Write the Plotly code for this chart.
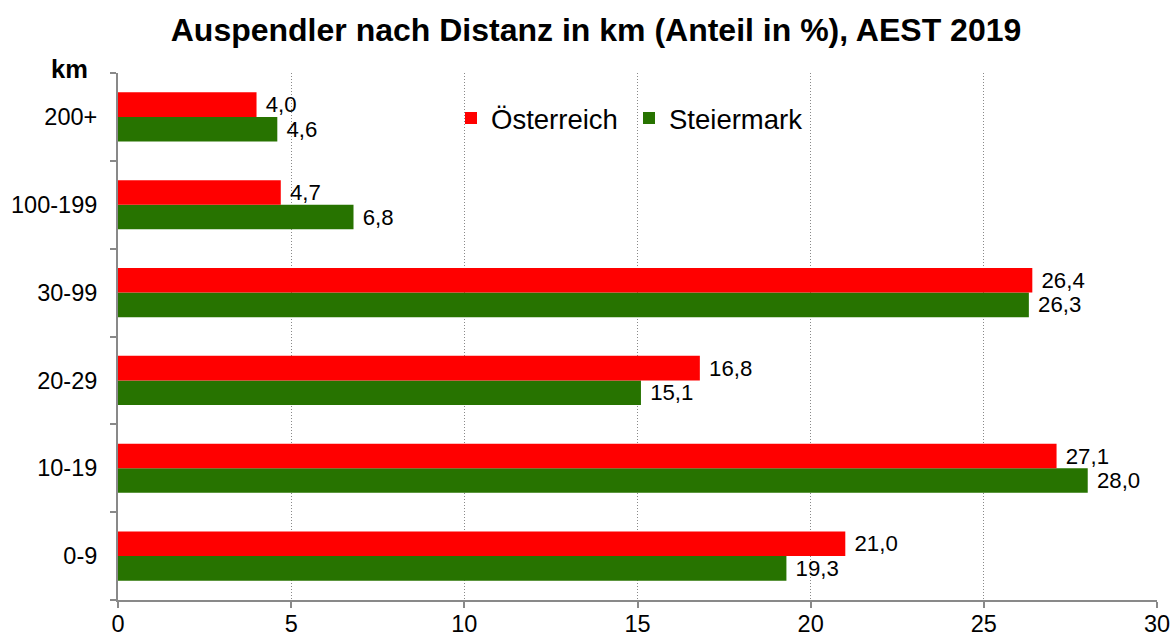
import plotly.graph_objects as go

categories = ["0-9", "10-19", "20-29", "30-99", "100-199", "200+"]
oesterreich = [21.0, 27.1, 16.8, 26.4, 4.7, 4.0]
steiermark = [19.3, 28.0, 15.1, 26.3, 6.8, 4.6]
x_ticks = [0, 5, 10, 15, 20, 25, 30]

FONT = "Liberation Sans, Arial, sans-serif"
RED = "#FF0000"
GREEN = "#277300"
GREY = "#898989"
LBL = 23.5

fig = go.Figure()
fig.add_trace(go.Bar(
    y=categories, x=steiermark, orientation="h", name="Steiermark",
    marker=dict(color=GREEN, line=dict(width=0)),
    text=steiermark, texttemplate="\u00a0%{x:.1f}", textposition="outside",
    textfont=dict(size=LBL, color="black", family=FONT), cliponaxis=False,
    legendrank=2,
))
fig.add_trace(go.Bar(
    y=categories, x=oesterreich, orientation="h", name="Österreich",
    marker=dict(color=RED, line=dict(width=0)),
    text=oesterreich, texttemplate="\u00a0%{x:.1f}", textposition="outside",
    textfont=dict(size=LBL, color="black", family=FONT), cliponaxis=False,
    legendrank=1,
))

fig.update_layout(
    width=1171, height=635,
    margin=dict(l=118, r=14, t=73, b=35, autoexpand=False),
    paper_bgcolor="white", plot_bgcolor="white",
    separators=",.",
    barmode="group", bargap=0.44, bargroupgap=0,
    font=dict(family=FONT, color="black", size=LBL),
    title=dict(
        text="<b>Auspendler nach Distanz in km (Anteil in %), AEST 2019</b>",
        x=596 / 1171, xanchor="center", xref="container",
        y=1 - 30 / 635, yanchor="middle", yref="container",
        font=dict(size=32, family=FONT, color="black"),
    ),
    legend=dict(
        orientation="h", x=(451 - 118) / 1039, xanchor="left",
        y=(600 - 118) / 527, yanchor="middle",
        font=dict(size=27.5, family=FONT, color="black"),
        bgcolor="rgba(0,0,0,0)", traceorder="normal",
        entrywidth=133, entrywidthmode="pixels",
    ),
    xaxis=dict(
        range=[0, 30], tickvals=x_ticks, ticktext=[str(v) for v in x_ticks],
        showgrid=True, gridcolor=GREY, griddash="1px,2px", gridwidth=1,
        zeroline=False, showline=True, linecolor=GREY, linewidth=2,
        ticks="outside", ticklen=6, tickwidth=2, tickcolor=GREY,
        tickfont=dict(size=LBL, family=FONT, color="black"),
        ticklabelstandoff=-4, automargin=False,
    ),
    yaxis=dict(
        categoryorder="array", categoryarray=categories,
        showgrid=False, zeroline=False, showline=True, linecolor=GREY, linewidth=2,
        ticks="outside", ticklen=6, tickwidth=2, tickcolor=GREY, tickson="boundaries",
        tickfont=dict(size=LBL, family=FONT, color="black"),
        ticklabelstandoff=14, automargin=False,
    ),
    annotations=[dict(
        text="<b>km</b>", xref="paper", yref="paper",
        x=(69 - 118) / 1039, y=(600 - 69) / 527, xanchor="center", yanchor="middle",
        showarrow=False, font=dict(size=25.5, family=FONT, color="black"),
    )],
)

fig.write_html(
    "out.html",
    config={"displayModeBar": False},
    post_script="document.body.style.margin='0';document.body.style.overflow='hidden';",
)
